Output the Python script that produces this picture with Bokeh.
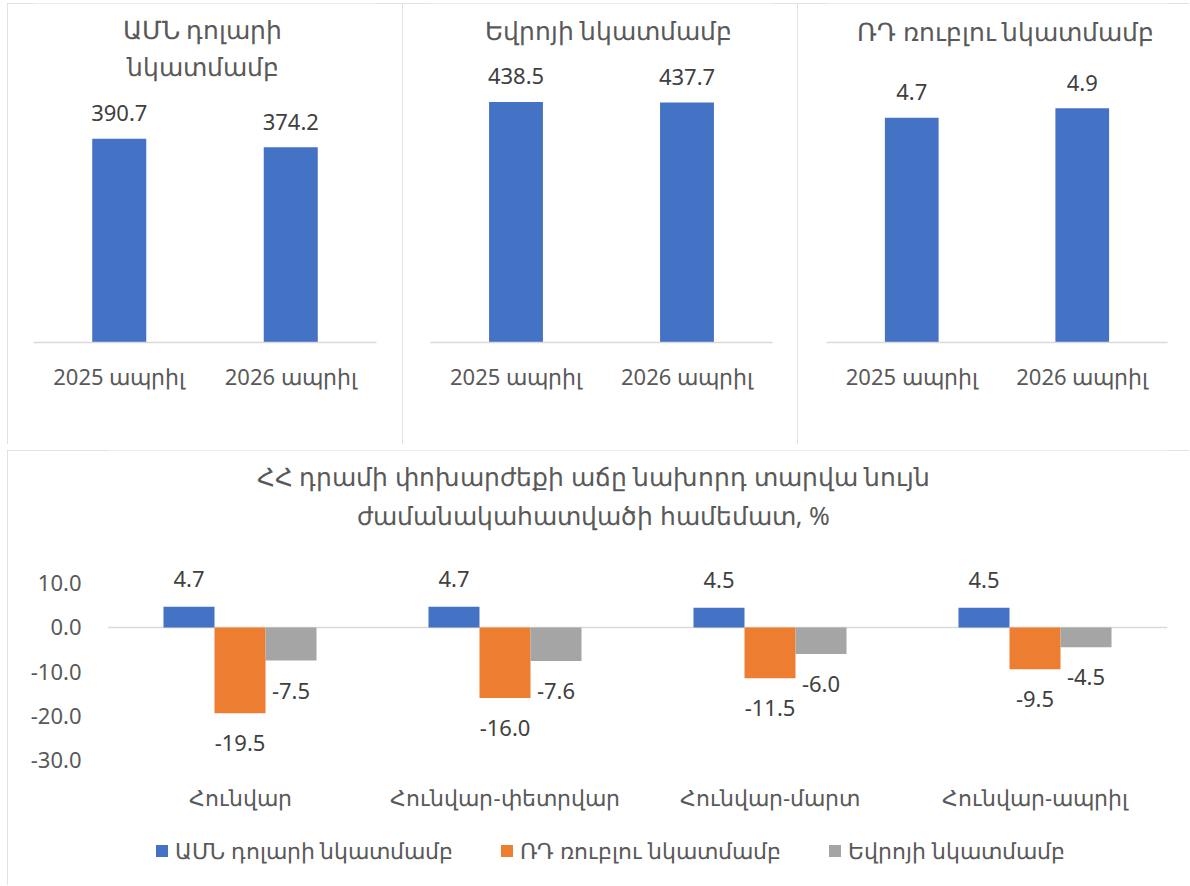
from bokeh.plotting import figure
from bokeh.models import (ColumnDataSource, FactorRange, Range1d, Label, Span,
                          Legend, LegendItem, NumeralTickFormatter, FixedTicker)
from bokeh.transform import dodge
from bokeh.layouts import row, column
from bokeh.embed import file_html
from bokeh.resources import INLINE
from bokeh.core.properties import value

FONT = "Noto Sans"
TXT = "#595959"
LBL = "#404040"
AXC = "#D9D9D9"
BLUE, ORANGE, GRAY = "#4472C4", "#ED7D31", "#A5A5A5"

# ---------------- data ----------------
periods = ["2025 ապրիլ", "2026 ապրիլ"]
usd_rate = [390.7, 374.2]
eur_rate = [438.5, 437.7]
rub_rate = [4.7, 4.9]
usd_title = ["ԱՄՆ դոլարի", "նկատմամբ"]
eur_title = ["Եվրոյի նկատմամբ"]
rub_title = ["ՌԴ ռուբլու նկատմամբ"]

months = ["Հունվար", "Հունվար-փետրվար", "Հունվար-մարտ", "Հունվար-ապրիլ"]
usd_growth = [4.7, 4.7, 4.5, 4.5]
rub_growth = [-19.5, -16.0, -11.5, -9.5]
eur_growth = [-7.5, -7.6, -6.0, -4.5]
series_names = ["ԱՄՆ դոլարի նկատմամբ", "ՌԴ ռուբլու նկատմամբ", "Եվրոյի նկատմամբ"]
bottom_title = ["ՀՀ դրամի փոխարժեքի աճը նախորդ տարվա նույն",
                "ժամանակահատվածի համեմատ, %"]
growth_ticks = [-30, -20, -10, 0, 10]

BORDER = {"outline": "1px solid #D9D9D9", "outline-offset": "-1px"}
TITLE_SIZE = "25px"


def top_panel(vals, title_lines, width, ymax, bl, br, bb, tx, tys):
    p = figure(width=width, height=441, x_range=FactorRange(*periods, range_padding=0),
               y_range=Range1d(0, ymax), output_backend="svg", toolbar_location=None,
               min_border_left=bl, min_border_right=br, min_border_top=0,
               min_border_bottom=bb, styles=BORDER)
    p.outline_line_color = None
    p.xgrid.visible = False
    p.ygrid.visible = False
    p.yaxis.visible = False
    ax = p.xaxis[0]
    ax.axis_line_color = AXC
    ax.axis_line_width = 1.5
    ax.major_tick_line_color = None
    ax.minor_tick_line_color = None
    ax.major_tick_out = 0
    ax.major_tick_in = 0
    ax.major_label_text_font = FONT
    ax.major_label_text_font_size = "22px"
    ax.major_label_text_color = TXT
    ax.major_label_standoff = 18
    src = ColumnDataSource(dict(x=periods, v=vals, lbl=["%.1f" % v for v in vals]))
    p.vbar(x="x", top="v", bottom=0, width=0.315, source=src, fill_color=BLUE,
           line_color=None)
    p.text(x="x", y="v", text="lbl", source=src, text_font=value(FONT),
           text_font_size="22px", text_color=LBL, text_align="center",
           text_baseline="middle", y_offset=-25.5)
    for line, ty in zip(title_lines, tys):
        p.add_layout(Label(x=tx, y=ty, x_units="screen", y_units="screen", text=line,
                           text_font=FONT, text_font_size=TITLE_SIZE, text_color=TXT,
                           text_align="center", text_baseline="middle"))
    return p


p1 = top_panel(usd_rate, usd_title, 395, 650, 26, 26, 100, 169, [314, 277])
p2 = top_panel(eur_rate, eur_title, 395, 618, 28, 25, 100, 178, [313])
p3 = top_panel(rub_rate, rub_title, 392, 7.09, 29, 22, 102, 179, [312])

# ---------------- bottom chart ----------------
p4 = figure(width=1182, height=435, x_range=FactorRange(*months, range_padding=0),
            y_range=Range1d(-58.6, 40.2), output_backend="svg", toolbar_location=None,
            min_border_left=100, min_border_right=22, min_border_top=0,
            min_border_bottom=0, styles=BORDER)
p4.outline_line_color = None
p4.xgrid.visible = False
p4.ygrid.visible = False
xa = p4.xaxis[0]
xa.fixed_location = -34.4
xa.axis_line_color = None
xa.major_tick_line_color = None
xa.minor_tick_line_color = None
xa.major_tick_out = 0
xa.major_tick_in = 0
xa.major_label_text_font = FONT
xa.major_label_text_font_size = "22px"
xa.major_label_text_color = TXT
xa.major_label_standoff = 3
ya = p4.yaxis[0]
ya.axis_line_color = None
ya.major_tick_line_color = None
ya.minor_tick_line_color = None
ya.major_tick_out = 0
ya.major_tick_in = 0
ya.ticker = FixedTicker(ticks=growth_ticks)
ya.formatter = NumeralTickFormatter(format="0.0")
ya.major_label_text_font = FONT
ya.major_label_text_font_size = "22px"
ya.major_label_text_color = TXT
ya.major_label_standoff = 26

p4.add_layout(Span(location=0, dimension="width", line_color=AXC, line_width=1.5,
                   level="underlay"))

bw = 0.1925
items = []
for i, (vals, col, name) in enumerate(zip([usd_growth, rub_growth, eur_growth],
                                          [BLUE, ORANGE, GRAY], series_names)):
    off = (i - 1) * bw
    src = ColumnDataSource(dict(m=months, v=vals, lbl=["%.1f" % v for v in vals],
                                yo=[-28 if v >= 0 else 30 for v in vals]))
    r = p4.vbar(x=dodge("m", off, range=p4.x_range), top="v", bottom=0, width=bw,
                source=src, fill_color=col, line_color=None)
    p4.text(x=dodge("m", off, range=p4.x_range), y="v", text="lbl", source=src,
            text_font=value(FONT), text_font_size="22px", text_color=LBL,
            text_align="center", text_baseline="middle", y_offset="yo")
    items.append(LegendItem(label=name, renderers=[r]))

for line, ty in zip(bottom_title, [410, 371]):
    p4.add_layout(Label(x=486, y=ty, x_units="screen", y_units="screen", text=line,
                        text_font=FONT, text_font_size=TITLE_SIZE, text_color=TXT,
                        text_align="center", text_baseline="middle"))

leg = Legend(items=items, orientation="horizontal", location=(47, 20),
             border_line_color=None, background_fill_alpha=0, padding=0, margin=0,
             glyph_width=15, glyph_height=15, label_standoff=6, spacing=46,
             label_text_font=FONT, label_text_font_size="22px", label_text_color=TXT)
p4.add_layout(leg)

layout = column(row(p1, p2, p3, spacing=0), p4, spacing=6, margin=(3, 0, 0, 7))

with open("out.html", "w") as f:
    f.write(file_html(layout, INLINE))
